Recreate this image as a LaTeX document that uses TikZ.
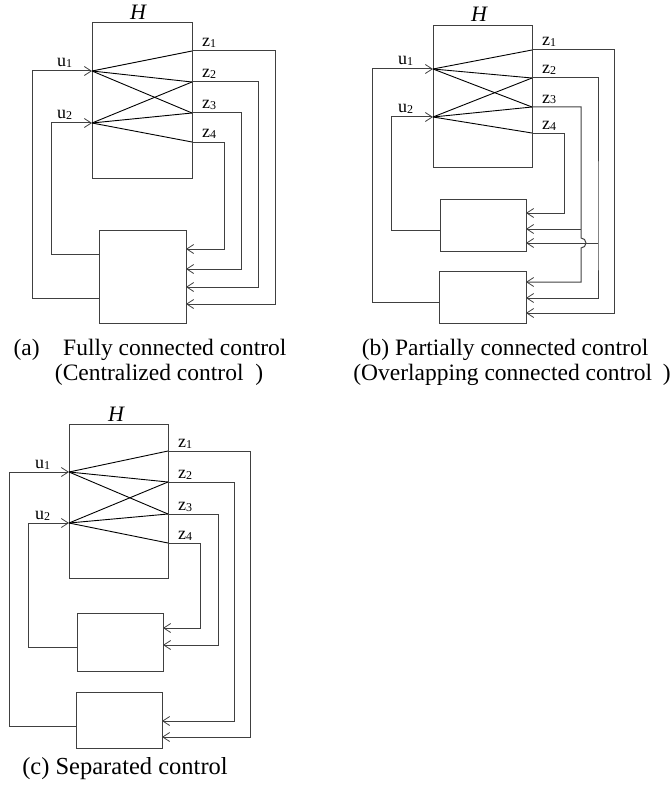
\documentclass[tikz,border=0pt]{standalone}
\usepackage{fontspec}
\setmainfont{Liberation Serif}
\usetikzlibrary{arrows.meta}

\newcommand{\sig}[2]{#1\raisebox{-1pt}{\fontsize{12}{12}\selectfont #2}}

\begin{document}
\begin{tikzpicture}[x=1pt, y=-1pt,
  box/.style={draw=black!75, line width=1pt, inner sep=0pt, outer sep=0pt},
  wire/.style={draw=black!75, line width=1pt},
  cross/.style={draw=black, line width=0.9pt},
  arr/.style={-{Straight Barb[length=7pt, width=9pt, line width=0.8pt]}},
  sigtxt/.style={font=\fontsize{18}{18}\selectfont, inner sep=0pt, anchor=base west},
  plant/.style={font=\fontsize{22}{22}\selectfont\itshape, inner sep=0pt, anchor=base},
  captxt/.style={font=\fontsize{23.5}{26}\selectfont, inner sep=0pt, anchor=base}
]
  \useasboundingbox (0,0) rectangle (670,789);

  % ---------- (a) fully connected ----------
  \node[box, minimum width=100pt, minimum height=155pt] (Ha) at (142,100.5) {};
  \node[box, minimum width=87pt, minimum height=93pt] (Ca) at (142.5,276.5) {};
  \node[plant] (Ha-l) at (138,20) {H};

  \coordinate (a-u1) at (92,71);   \coordinate (a-u2) at (92,123);
  \coordinate (a-z1) at (192,51);  \coordinate (a-z2) at (192,82);
  \coordinate (a-z3) at (192,113); \coordinate (a-z4) at (192,142);
  \coordinate (Ca-z4) at (186,249); \coordinate (Ca-z3) at (186,269);
  \coordinate (Ca-z2) at (186,287); \coordinate (Ca-z1) at (186,304);
  \coordinate (Ca-u2) at (99,254);  \coordinate (Ca-u1) at (99,298);

  \foreach \z in {z1,z2,z3} \draw[cross] (a-u1) -- (a-\z);
  \foreach \z in {z2,z3,z4} \draw[cross] (a-u2) -- (a-\z);

  \draw[wire, arr] (a-z1) -- ++(83,0) |- (Ca-z1);
  \draw[wire, arr] (a-z2) -- ++(66,0) |- (Ca-z2);
  \draw[wire, arr] (a-z3) -- ++(49,0) |- (Ca-z3);
  \draw[wire, arr] (a-z4) -- ++(32,0) |- (Ca-z4);
  \draw[wire, arr] (Ca-u1) -- ++(-67,0) |- (a-u1);
  \draw[wire, arr] (Ca-u2) -- ++(-48,0) |- (a-u2);

  \node[sigtxt] (a-l1) at (57,67)  {\sig{u}{1}};
  \node[sigtxt] (a-l2) at (57,119) {\sig{u}{2}};
  \node[sigtxt] (a-l3) at (202,47)  {\sig{z}{1}};
  \node[sigtxt] (a-l4) at (202,78)  {\sig{z}{2}};
  \node[sigtxt] (a-l5) at (202,109) {\sig{z}{3}};
  \node[sigtxt] (a-l6) at (202,138) {\sig{z}{4}};

  \node[captxt] (capa1) at (150,355) {(a)\quad Fully connected control};
  \node[captxt] (capa2) at (159,380) {(Centralized control\hspace{0.5em})};

  % ---------- (b) partially connected ----------
  \node[box, minimum width=99pt, minimum height=141pt] (Hb) at (482.5,96.5) {};
  \node[box, minimum width=86pt, minimum height=52pt] (Cb1) at (483,225) {};
  \node[box, minimum width=87pt, minimum height=52pt] (Cb2) at (482.5,297) {};
  \node[plant] (Hb-l) at (479,22) {H};

  \coordinate (b-u1) at (433,69);  \coordinate (b-u2) at (433,117);
  \coordinate (b-z1) at (532,50);  \coordinate (b-z2) at (532,78);
  \coordinate (b-z3) at (532,107); \coordinate (b-z4) at (532,133);
  \coordinate (Cb1-z4) at (526,213); \coordinate (Cb1-z3) at (526,229);
  \coordinate (Cb1-z2) at (526,243); \coordinate (Cb1-u2) at (440,230);
  \coordinate (Cb2-z3) at (526,282); \coordinate (Cb2-z2) at (526,298);
  \coordinate (Cb2-z1) at (526,313); \coordinate (Cb2-u1) at (439,302);
  \coordinate (b-j3) at (581,229); \coordinate (b-j2) at (598,243);
  \coordinate (b-hop) at (581,238);

  \foreach \z in {z1,z2,z3} \draw[cross] (b-u1) -- (b-\z);
  \foreach \z in {z2,z3,z4} \draw[cross] (b-u2) -- (b-\z);

  \draw[wire, arr] (b-z1) -- ++(82,0) |- (Cb2-z1);
  \draw[wire, arr] (b-z2) -| (b-j2) |- (Cb2-z2);
  \draw[wire, arr] (b-j2) -- (Cb1-z2);
  \draw[wire, arr] (b-z3) -| (b-hop)
    arc[start angle=-90, end angle=90, radius=5] |- (Cb2-z3);
  \draw[wire, arr] (b-j3) -- (Cb1-z3);
  \draw[wire, arr] (b-z4) -- ++(32,0) |- (Cb1-z4);
  \draw[wire, arr] (Cb2-u1) -- ++(-67,0) |- (b-u1);
  \draw[wire, arr] (Cb1-u2) -- ++(-49,0) |- (b-u2);

  \node[sigtxt] (b-l1) at (398,65)  {\sig{u}{1}};
  \node[sigtxt] (b-l2) at (398,113) {\sig{u}{2}};
  \node[sigtxt] (b-l3) at (542,46)  {\sig{z}{1}};
  \node[sigtxt] (b-l4) at (542,74)  {\sig{z}{2}};
  \node[sigtxt] (b-l5) at (542,103) {\sig{z}{3}};
  \node[sigtxt] (b-l6) at (542,129) {\sig{z}{4}};

  \node[captxt] (capb1) at (505,355) {(b) Partially connected control};
  \node[captxt] (capb2) at (512,380) {(Overlapping connected control\hspace{0.45em})};

  % ---------- (c) separated ----------
  \node[box, minimum width=99pt, minimum height=154pt] (Hc) at (118.5,501) {};
  \node[box, minimum width=86pt, minimum height=58pt] (Cc1) at (120,642) {};
  \node[box, minimum width=86pt, minimum height=56pt] (Cc2) at (119,720) {};
  \node[plant] (Hc-l) at (116,421) {H};

  \coordinate (c-u1) at (69,472);  \coordinate (c-u2) at (69,523);
  \coordinate (c-z1) at (168,451); \coordinate (c-z2) at (168,482);
  \coordinate (c-z3) at (168,514); \coordinate (c-z4) at (168,543);
  \coordinate (Cc1-z4) at (163,628); \coordinate (Cc1-z3) at (163,645);
  \coordinate (Cc1-u2) at (77,647);
  \coordinate (Cc2-z2) at (162,721); \coordinate (Cc2-z1) at (162,737);
  \coordinate (Cc2-u1) at (76,726);

  \foreach \z in {z1,z2,z3} \draw[cross] (c-u1) -- (c-\z);
  \foreach \z in {z2,z3,z4} \draw[cross] (c-u2) -- (c-\z);

  \draw[wire, arr] (c-z1) -- ++(82,0) |- (Cc2-z1);
  \draw[wire, arr] (c-z2) -- ++(66,0) |- (Cc2-z2);
  \draw[wire, arr] (c-z3) -- ++(50,0) |- (Cc1-z3);
  \draw[wire, arr] (c-z4) -- ++(32,0) |- (Cc1-z4);
  \draw[wire, arr] (Cc2-u1) -- ++(-67,0) |- (c-u1);
  \draw[wire, arr] (Cc1-u2) -- ++(-49,0) |- (c-u2);

  \node[sigtxt] (c-l1) at (35,468)  {\sig{u}{1}};
  \node[sigtxt] (c-l2) at (35,519)  {\sig{u}{2}};
  \node[sigtxt] (c-l3) at (178,447) {\sig{z}{1}};
  \node[sigtxt] (c-l4) at (178,478) {\sig{z}{2}};
  \node[sigtxt] (c-l5) at (178,510) {\sig{z}{3}};
  \node[sigtxt] (c-l6) at (178,539) {\sig{z}{4}};

  \node[captxt, font=\fontsize{24.5}{26}\selectfont] (capc) at (125,774) {(c) Separated control};

\end{tikzpicture}
\end{document}
